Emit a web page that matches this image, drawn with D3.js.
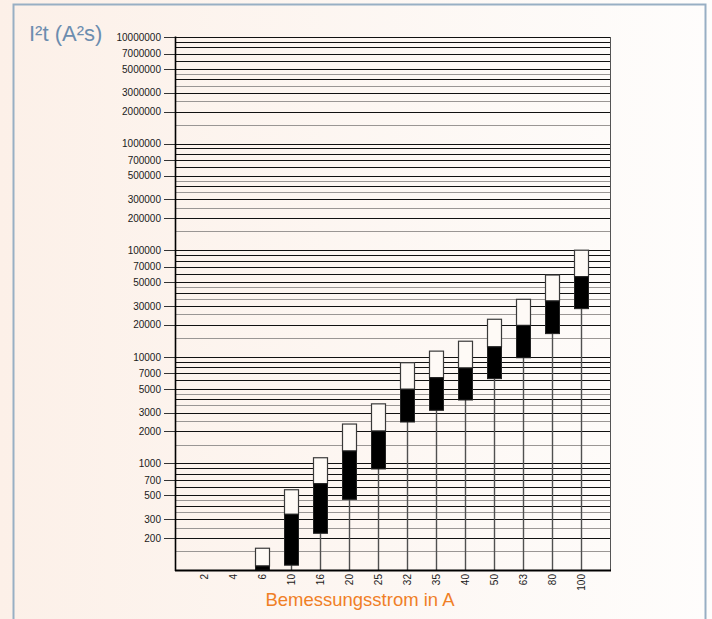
<!DOCTYPE html>
<html>
<head>
<meta charset="utf-8">
<script src="https://cdn.jsdelivr.net/npm/d3@7"></script>
<style>
  html, body { margin: 0; padding: 0; background: #fff; }
  svg { display: block; }
</style>
</head>
<body>
<script>
// ---- data ----
const categories = ["2","4","6","10","16","20","25","32","35","40","50","63","80","100"];
const upperValues = [null, null, 160, 566, 1130, 2340, 3620, 8800, 11300, 14000, 22500, 34600, 58500, 100000];
const midValues   = [null, null, 109, 333, 645, 1307, 2010, 4960, 6370, 7850, 12400, 19700, 33400, 56400];
const lowerValues = [null, null, 100, 111, 221, 460, 887, 2445, 3150, 3935, 6240, 9800, 16500, 28300];
const yTickLabels = [10000000, 7000000, 5000000, 3000000, 2000000, 1000000, 700000, 500000, 300000, 200000,
                     100000, 70000, 50000, 30000, 20000, 10000, 7000, 5000, 3000, 2000, 1000, 700, 500, 300, 200];
const gridMultipliers = [1.5, 2, 2.5, 3, 3.5, 4, 4.5, 5, 6, 7, 8, 9, 10];
const halfMultipliers = [1.5, 2.5, 3.5, 4.5];
const decades = [100, 1000, 10000, 100000, 1000000];
const yTitle = "I²t (A²s)";
const xTitle = "Bemessungsstrom in A";

// ---- layout ----
const W = 712, H = 619;
const plot = { left: 175, right: 610, top: 37, bottom: 570 };

const svg = d3.select("body").append("svg").attr("width", W).attr("height", H);

const defs = svg.append("defs");
const grad = defs.append("linearGradient").attr("id", "bg").attr("x1", "0").attr("x2", "1").attr("y1", "0").attr("y2", "0");
grad.append("stop").attr("offset", "0%").attr("stop-color", "#fcf0e8");
grad.append("stop").attr("offset", "100%").attr("stop-color", "#fefdfc");
svg.append("rect").attr("width", W).attr("height", H).attr("fill", "url(#bg)");

// frame
svg.append("rect").attr("x", 13.5).attr("y", 4.5).attr("width", 692).attr("height", 650)
  .attr("fill", "none").attr("stroke", "#98afc4").attr("stroke-width", 2);

const x = d3.scalePoint().domain(categories).range([plot.left, plot.right]).padding(1);
const y = d3.scaleLog().domain([100, 1e7]).range([plot.bottom, plot.top]);

// gridlines
const gridData = [];
decades.forEach(d => gridMultipliers.forEach(m => gridData.push({ v: d * m, half: halfMultipliers.includes(m) })));
const g = svg.append("g").attr("shape-rendering", "crispEdges");
g.selectAll("line.grid").data(gridData).join("line")
  .attr("class", "grid")
  .attr("x1", plot.left).attr("x2", plot.right)
  .attr("y1", d => Math.round(y(d.v)) + 0.5).attr("y2", d => Math.round(y(d.v)) + 0.5)
  .attr("stroke", d => d.half ? "#9a9694" : "#111")
  .attr("stroke-width", 1);

// right border
g.append("line").attr("x1", plot.right + 0.5).attr("x2", plot.right + 0.5)
  .attr("y1", plot.top).attr("y2", plot.bottom).attr("stroke", "#555").attr("stroke-width", 1);

// y axis
const yAxis = d3.axisLeft(y).tickValues(yTickLabels).tickFormat(d3.format("d")).tickSize(11).tickPadding(3);
const ya = svg.append("g").attr("transform", `translate(${plot.left},0)`).call(yAxis);
ya.select(".domain").remove();
ya.selectAll(".tick line").attr("stroke", "#333").attr("shape-rendering", "crispEdges");
ya.selectAll(".tick text").attr("font-family", "Liberation Sans, Arial, sans-serif").attr("font-size", 10).attr("fill", "#1a1a1a");

// vertical stems
const idx = categories.map((c, i) => i).filter(i => upperValues[i] != null);
svg.append("g").selectAll("line").data(idx).join("line")
  .attr("x1", i => Math.round(x(categories[i])) + 0.5).attr("x2", i => Math.round(x(categories[i])) + 0.5)
  .attr("y1", i => y(lowerValues[i])).attr("y2", plot.bottom)
  .attr("stroke", "#505050").attr("stroke-width", 1.4);

// bars
const bw = 14;
const bars = svg.append("g");
bars.selectAll("rect.top").data(idx).join("rect")
  .attr("class", "top")
  .attr("x", i => Math.round(x(categories[i])) - bw / 2 + 0.5)
  .attr("y", i => y(upperValues[i]))
  .attr("width", bw)
  .attr("height", i => y(midValues[i]) - y(upperValues[i]))
  .attr("fill", "#fefaf6").attr("stroke", "#3a3a3a").attr("stroke-width", 1.2);
bars.selectAll("rect.bot").data(idx).join("rect")
  .attr("class", "bot")
  .attr("x", i => Math.round(x(categories[i])) - bw / 2 + 0.5)
  .attr("y", i => y(midValues[i]))
  .attr("width", bw)
  .attr("height", i => y(lowerValues[i]) - y(midValues[i]))
  .attr("fill", "#000").attr("stroke", "#222").attr("stroke-width", 1);

// axis lines
svg.append("line").attr("x1", plot.left + 0.5).attr("x2", plot.left + 0.5).attr("y1", plot.top - 0.5).attr("y2", plot.bottom + 1)
  .attr("stroke", "#000").attr("stroke-width", 1.6);
svg.append("line").attr("x1", plot.left).attr("x2", plot.right + 1).attr("y1", plot.bottom + 0.5).attr("y2", plot.bottom + 0.5)
  .attr("stroke", "#000").attr("stroke-width", 1.8);

// x axis labels
const xa = svg.append("g");
xa.selectAll("text").data(categories).join("text")
  .attr("transform", d => `translate(${x(d) + 3.5},${plot.bottom + 4}) rotate(-90)`)
  .attr("text-anchor", "end")
  .attr("font-family", "Liberation Sans, Arial, sans-serif").attr("font-size", 10).attr("fill", "#1a1a1a")
  .text(d => d);

// titles
svg.append("text").attr("x", 360).attr("y", 606)
  .attr("text-anchor", "middle")
  .attr("font-family", "Liberation Sans, Arial, sans-serif").attr("font-size", 18.5).attr("fill", "#f07f26")
  .text(xTitle);
svg.append("text").attr("x", 29).attr("y", 41)
  .attr("font-family", "Liberation Sans, Arial, sans-serif").attr("font-size", 22).attr("fill", "#6c8daf")
  .text(yTitle);
</script>
</body>
</html>
